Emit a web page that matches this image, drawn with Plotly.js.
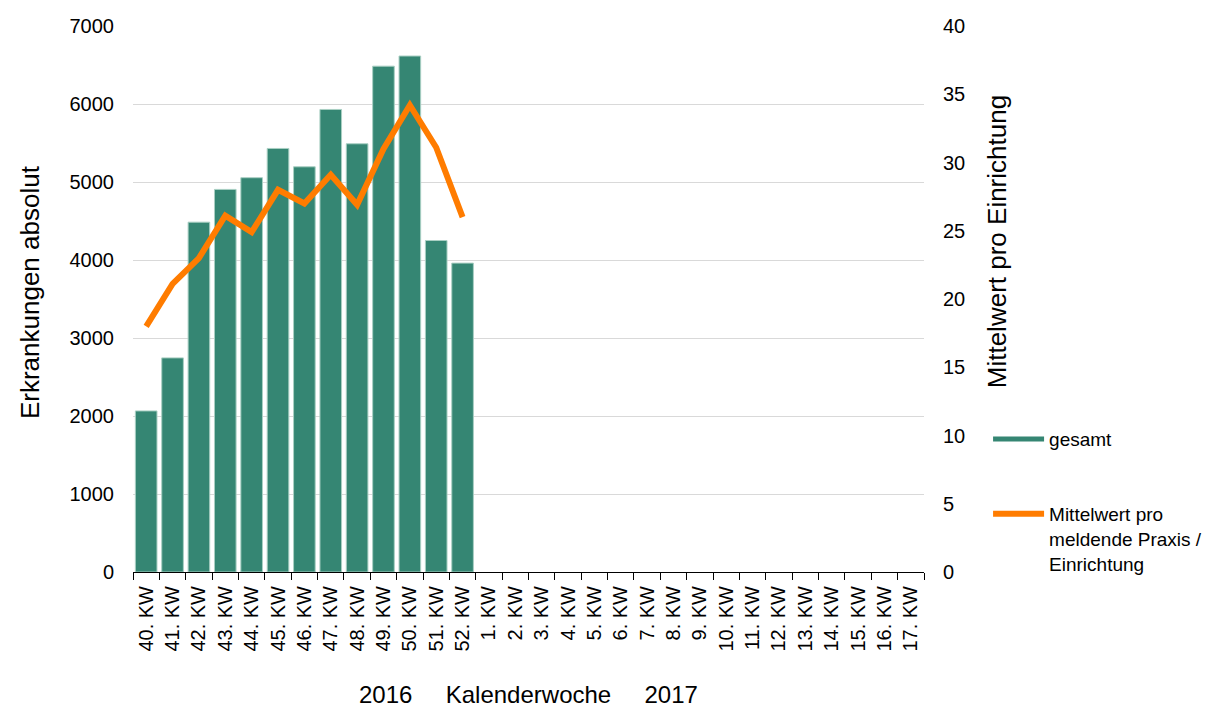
<!DOCTYPE html>
<html>
<head>
<meta charset="utf-8">
<script src="https://cdn.plot.ly/plotly-3.0.1.min.js"></script>
<style>html,body{margin:0;padding:0;background:#fff;}#chart{width:1229px;height:709px;}</style>
</head>
<body>
<div id="chart"></div>
<script>
const weeks = ["40. KW","41. KW","42. KW","43. KW","44. KW","45. KW","46. KW","47. KW","48. KW","49. KW","50. KW","51. KW","52. KW",
  "1. KW","2. KW","3. KW","4. KW","5. KW","6. KW","7. KW","8. KW","9. KW","10. KW","11. KW","12. KW","13. KW","14. KW","15. KW","16. KW","17. KW"];
const gesamt = [2065, 2745, 4485, 4905, 5055, 5430, 5195, 5930, 5490, 6485, 6615, 4250, 3960,
  null,null,null,null,null,null,null,null,null,null,null,null,null,null,null,null,null];
const mittelwert = [18, 21.1, 23, 26.1, 24.9, 28, 27, 29.1, 26.9, 31, 34.2, 31.1, 26,
  null,null,null,null,null,null,null,null,null,null,null,null,null,null,null,null,null];
const seriesNames = ["gesamt", "Mittelwert pro<br>meldende Praxis /<br>Einrichtung"];
const leftTitle = "Erkrankungen absolut";
const rightTitle = "Mittelwert pro Einrichtung";
const xTitle = "2016\u00a0\u00a0\u00a0\u00a0\u00a0Kalenderwoche\u00a0\u00a0\u00a0\u00a0\u00a02017";

const teal = "#358673";
const orange = "#FF7C00";
const font = "Liberation Sans, Arial, sans-serif";

const traces = [
  {type:"bar", x:weeks, y:gesamt, name:seriesNames[0], showlegend:false,
   marker:{color:teal, line:{color:"#a9cfc3", width:1}}, hoverinfo:"x+y"},
  {type:"scatter", mode:"lines", x:[null], y:[null], name:seriesNames[0], legendgroup:"a",
   line:{color:teal, width:5}},
  {type:"scatter", mode:"lines", x:weeks, y:mittelwert, name:seriesNames[1], legendgroup:"b", yaxis:"y2",
   line:{color:orange, width:6}, connectgaps:false}
];

const layout = {
  width:1229, height:709,
  margin:{l:133, r:305, t:26, b:137},
  paper_bgcolor:"#fff", plot_bgcolor:"#fff",
  font:{family:font, size:20, color:"#000"},
  bargap:0.18,
  showlegend:true,
  legend:{x:1.081, xanchor:"left", y:0.278, yanchor:"top", traceorder:"grouped", tracegroupgap:47,
    valign:"top", itemwidth:51, font:{size:19, family:font, color:"#000"}, bgcolor:"rgba(0,0,0,0)"},
  xaxis:{type:"category", range:[-0.5, 29.5], tickson:"boundaries", ticks:"outside", ticklen:7,
    tickcolor:"#000", tickwidth:1, showline:true, linecolor:"#000", linewidth:1, tickangle:-90,
    ticklabelstandoff:5,
    tickfont:{size:20, family:font, color:"#000"}, showgrid:false, zeroline:false, fixedrange:true},
  yaxis:{range:[0,7000], dtick:1000, tick0:0, showgrid:true, gridcolor:"#d9d9d9", gridwidth:1,
    zeroline:false, showline:false, ticks:"", ticklabelstandoff:18,
    tickfont:{size:20, family:font, color:"#000"}, fixedrange:true},
  yaxis2:{overlaying:"y", side:"right", range:[0,40], dtick:5, tick0:0, showgrid:false, zeroline:false,
    showline:false, ticks:"", ticklabelstandoff:18, tickfont:{size:20, family:font, color:"#000"}, fixedrange:true},
  annotations:[
    {text:leftTitle, xref:"paper", yref:"paper", x:-0.130, y:0.513, textangle:-90, showarrow:false,
     xanchor:"center", yanchor:"middle", font:{size:26, family:font, color:"#000"}},
    {text:rightTitle, xref:"paper", yref:"paper", x:1.0923, y:0.604, textangle:-90, showarrow:false,
     xanchor:"center", yanchor:"middle", font:{size:26, family:font, color:"#000"}},
    {text:xTitle, xref:"paper", yref:"paper", x:0.5, y:-0.225, showarrow:false,
     xanchor:"center", yanchor:"middle", font:{size:24, family:font, color:"#000"}}
  ]
};

Plotly.newPlot("chart", traces, layout, {displayModeBar:false, staticPlot:true});
</script>
</body>
</html>
